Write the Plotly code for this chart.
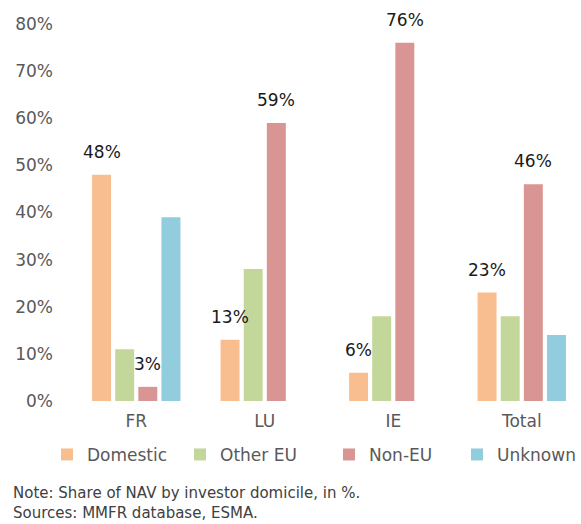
import plotly.graph_objects as go

categories = ["FR", "LU", "IE", "Total"]
domestic = [48, 13, 6, 23]
other_eu = [11, 28, 18, 18]
non_eu = [3, 59, 76, 46]
unknown = [39, None, None, 14]
y_ticks = [0, 10, 20, 30, 40, 50, 60, 70, 80]
y_tick_labels = [f"{v}%" for v in y_ticks]
note_lines = ["Note: Share of NAV by investor domicile, in %.",
              "Sources: MMFR database, ESMA."]

FONT = "DejaVu Sans, Liberation Sans, sans-serif"
W, H = 581, 524
L, R, T, B = 72, 0, 24, 123
BARGAP, BARGROUPGAP = 0.28, 0.18

fig = go.Figure()
series = [
    ("Domestic", domestic, "#F9BE8F", True, 88),
    ("Other EU", other_eu, "#C4D79B", False, 104),
    ("Non-EU", non_eu, "#D99594", True, 83),
    ("Unknown", unknown, "#92CDDD", False, None),
]
n = len(series)
slot = (1 - BARGAP) / n
for i, (name, vals, color, labelled, lw) in enumerate(series):
    fig.add_trace(go.Bar(
        name=name, x=categories, y=vals,
        marker=dict(color=color, line=dict(width=0)),
        legendwidth=lw,
        hoverinfo="skip",
    ))
    if labelled:
        off = -(1 - BARGAP) / 2 + slot * (i + 0.5)
        for j, v in enumerate(vals):
            if v is None:
                continue
            fig.add_annotation(
                x=j + off, y=v, xref="x", yref="y",
                text=f"{v:.0f}%", showarrow=False,
                yanchor="middle", yshift=23,
                font=dict(family=FONT, size=17, color="#1a1a1a"),
            )

fig.update_layout(
    width=W, height=H,
    margin=dict(l=L, r=R, t=T, b=B),
    paper_bgcolor="white", plot_bgcolor="white",
    barmode="group", bargap=BARGAP, bargroupgap=BARGROUPGAP,
    font=dict(family=FONT, size=17, color="#595959"),
    showlegend=True,
    legend=dict(
        orientation="h", x=-0.042, xanchor="left", y=-0.143, yanchor="middle",
        font=dict(family=FONT, size=17, color="#595959"),
        itemwidth=30, traceorder="normal",
    ),
)
fig.update_xaxes(
    range=[-0.5, 3.461], showgrid=False, zeroline=False, showline=False,
    ticks="", tickfont=dict(family=FONT, size=17, color="#595959"),
    ticklabelstandoff=8,
)
fig.update_yaxes(
    range=[0, 80], tickvals=y_ticks, ticktext=y_tick_labels,
    showgrid=False, zeroline=False, showline=False, ticks="",
    tickfont=dict(family=FONT, size=17, color="#595959"),
    ticklabelstandoff=18,
)
fig.add_annotation(
    xref="paper", yref="paper", x=-0.12, y=-0.2704,
    xanchor="left", yanchor="middle", align="left", showarrow=False,
    text="<br>".join(note_lines),
    font=dict(family=FONT, size=15, color="#404040"),
)
fig.write_html("out.html", config={"displayModeBar": False},
               post_script="document.body.style.margin='0px';")
